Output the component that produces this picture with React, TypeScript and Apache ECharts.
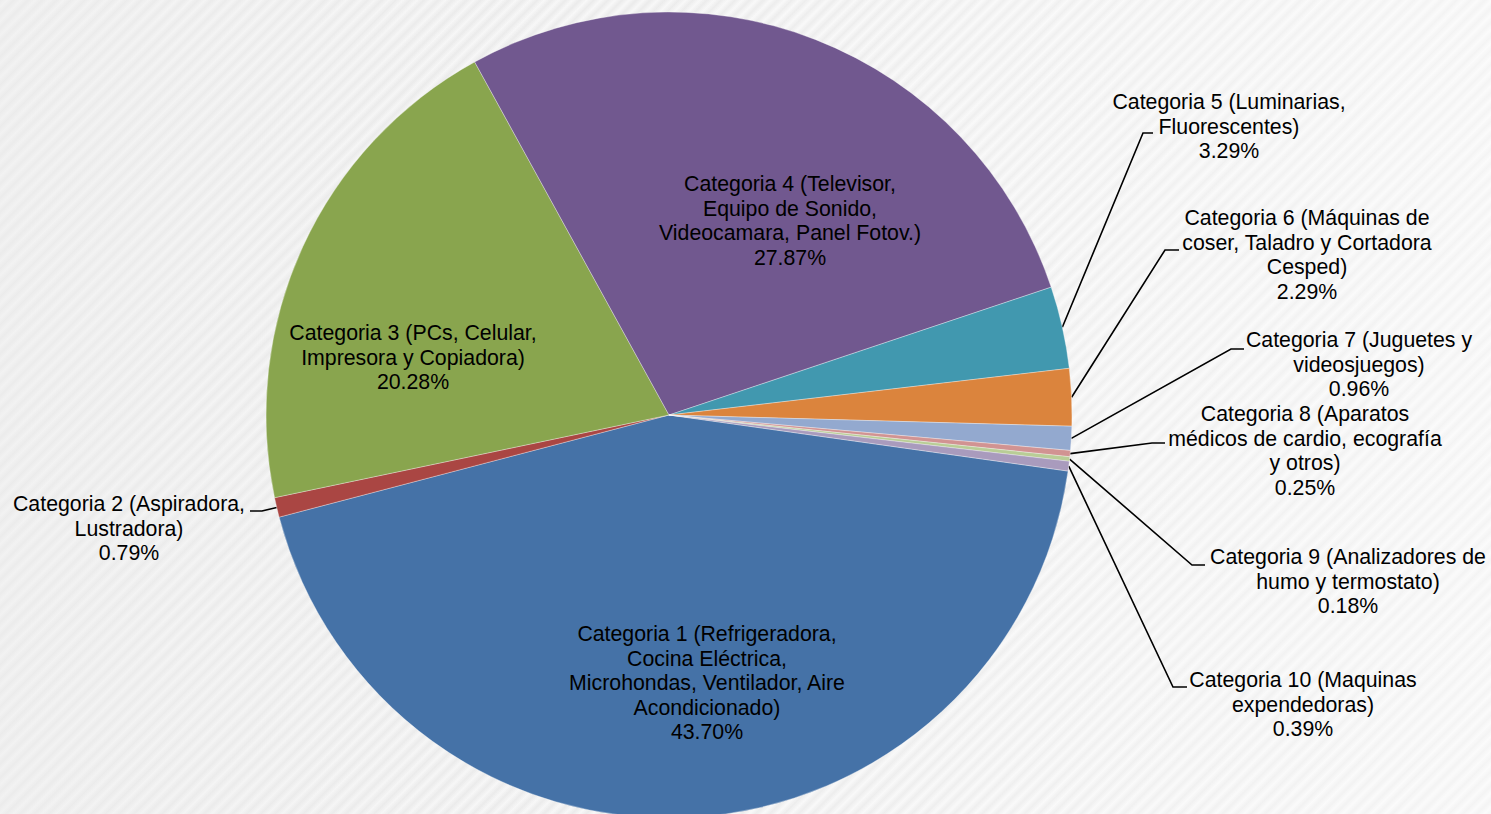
import React, { useEffect, useRef } from 'react';
import * as echarts from 'echarts';

// ---- data ----
const categories: string[] = [
  'Categoria 1 (Refrigeradora,\nCocina Eléctrica,\nMicrohondas, Ventilador, Aire\nAcondicionado)',
  'Categoria 2 (Aspiradora,\nLustradora)',
  'Categoria 3 (PCs, Celular,\nImpresora y Copiadora)',
  'Categoria 4 (Televisor,\nEquipo de Sonido,\nVideocamara, Panel Fotov.)',
  'Categoria 5 (Luminarias,\nFluorescentes)',
  'Categoria 6 (Máquinas de\ncoser, Taladro y Cortadora\nCesped)',
  'Categoria 7 (Juguetes y\nvideosjuegos)',
  'Categoria 8 (Aparatos\nmédicos de cardio, ecografía\ny otros)',
  'Categoria 9 (Analizadores de\nhumo y termostato)',
  'Categoria 10 (Maquinas\nexpendedoras)',
];
const shares: number[] = [43.7, 0.79, 20.28, 27.87, 3.29, 2.29, 0.96, 0.25, 0.18, 0.39];

// ---- styling / layout ----
const colors = [
  '#4572A7', '#AA4643', '#89A54E', '#71588F', '#4198AF',
  '#DB843D', '#93A9CF', '#D19392', '#B9CD96', '#A99BBD',
];
const LH = 24.5;
// label anchor: x = centre of text block, y = centre of first line; line = elbow + end points
const labelPlace: { x: number; y: number; inside: boolean; line?: number[][] }[] = [
  { x: 707, y: 634, inside: true },
  { x: 129, y: 504, inside: false, line: [[262, 511], [250, 511]] },
  { x: 413, y: 333, inside: true },
  { x: 790, y: 184, inside: true },
  { x: 1229, y: 102, inside: false, line: [[1143, 133], [1153, 133]] },
  { x: 1307, y: 218, inside: false, line: [[1165, 250], [1179, 250]] },
  { x: 1359, y: 340, inside: false, line: [[1231, 349], [1244, 349]] },
  { x: 1305, y: 414, inside: false, line: [[1152, 443], [1165, 443]] },
  { x: 1348, y: 557, inside: false, line: [[1192, 565], [1205, 565]] },
  { x: 1303, y: 680, inside: false, line: [[1173, 687], [1187, 687]] },
];

export default function App() {
  const ref = useRef<HTMLDivElement>(null);
  useEffect(() => {
    if (!ref.current) return;
    const chart = echarts.init(ref.current, undefined, { renderer: 'svg' });
    const data = categories.map((name, i) => ({
      name,
      value: shares[i],
      itemStyle: { color: colors[i] },
      label: { position: labelPlace[i].inside ? 'inside' : 'outside' },
      labelLine: { show: !labelPlace[i].inside },
    }));
    chart.setOption({
      animation: false,
      backgroundColor: 'transparent',
      series: [
        {
          type: 'pie',
          center: [669, 415],
          radius: [0, 403],
          startAngle: -8,
          clockwise: true,
          avoidLabelOverlap: false,
          minShowLabelAngle: 0,
          itemStyle: { borderColor: 'rgba(255,255,255,0.55)', borderWidth: 0.6 },
          emphasis: { disabled: true },
          label: {
            show: true,
            color: '#000',
            fontFamily: 'Liberation Sans, Arial, sans-serif',
            fontSize: 21.3,
            lineHeight: LH,
            align: 'center',
            formatter: (p: any) => `${p.name}\n${Number(p.value).toFixed(2)}%`,
          },
          labelLine: {
            show: true,
            length: 20,
            length2: 10,
            lineStyle: { color: '#000', width: 1.6 },
          },
          labelLayout: (p: any) => {
            const L = labelPlace[p.dataIndex];
            const res: any = { x: L.x, y: L.y - LH / 2, align: 'center', verticalAlign: 'top' };
            if (L.line && p.labelLinePoints && p.labelLinePoints[0]) {
              const a = p.labelLinePoints[0];
              res.labelLinePoints = [[a[0], a[1]], L.line[0], L.line[1]];
            }
            return res;
          },
          data,
        },
      ],
    });
    return () => chart.dispose();
  }, []);
  return (
    <div
      style={{
        position: 'absolute',
        left: 0,
        top: 0,
        width: 1491,
        height: 814,
        overflow: 'hidden',
        background:
          'linear-gradient(to right, rgba(236,236,236,0.5) 0%, rgba(255,255,255,0) 40%, rgba(255,255,255,0.45) 100%), repeating-linear-gradient(135deg, #ebebeb 0px, #f8f8f8 5px, #ebebeb 10px)',
      }}
    >
      <div ref={ref} style={{ width: 1491, height: 814 }} />
    </div>
  );
}
